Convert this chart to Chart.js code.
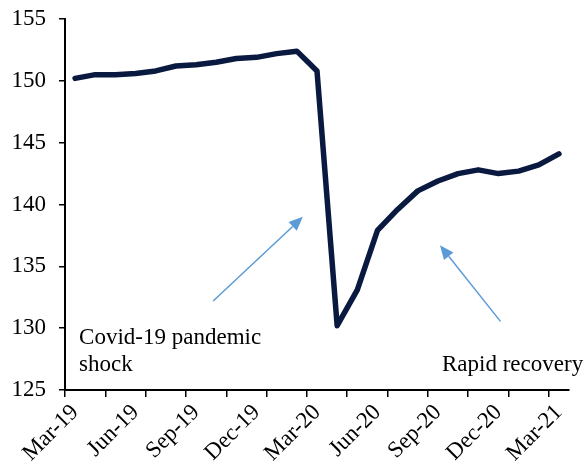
<!DOCTYPE html>
<html>
<head>
<meta charset="utf-8">
<script src="https://cdn.jsdelivr.net/npm/chart.js@4"></script>
<style>
  html, body { margin: 0; padding: 0; background: #fff; }
  #wrap { width: 587px; height: 470px; }
</style>
</head>
<body>
<div id="wrap"><canvas id="chart"></canvas></div>
<script>
// monthly index, Mar-19 .. Mar-21
const months = ['Mar-19', 'Apr-19', 'May-19', 'Jun-19', 'Jul-19', 'Aug-19', 'Sep-19', 'Oct-19', 'Nov-19',
  'Dec-19', 'Jan-20', 'Feb-20', 'Mar-20', 'Apr-20', 'May-20', 'Jun-20', 'Jul-20', 'Aug-20', 'Sep-20',
  'Oct-20', 'Nov-20', 'Dec-20', 'Jan-21', 'Feb-21', 'Mar-21'];
const values = [150.2, 150.5, 150.5, 150.6, 150.8, 151.2, 151.3, 151.5, 151.8, 151.9, 152.2, 152.4, 150.8,
  130.2, 133.1, 137.9, 139.6, 141.1, 141.9, 142.5, 142.8, 142.5, 142.7, 143.2, 144.1];
const yTicks = [125, 130, 135, 140, 145, 150, 155];

// annotation texts and arrows (x in month index, y in index value)
const notes = [
  { lines: ['Covid-19 pandemic', 'shock'], x: 0.2, y: [128.7, 126.55] },
  { lines: ['Rapid recovery'], x: 18.2, y: [126.55] }
];
const arrows = [
  { from: [6.85, 132.2], to: [11.3, 139.0] },
  { from: [21.1, 130.55], to: [18.1, 136.7] }
];

const points = values.map((v, i) => ({ x: i, y: v }));
const font = { family: "'Liberation Serif', 'Times New Roman', serif", size: 23 };

const notesPlugin = {
  id: 'notes',
  afterDatasetsDraw(chart) {
    const { ctx, scales: { x, y } } = chart;
    ctx.save();
    ctx.fillStyle = '#000';
    ctx.font = font.size + 'px ' + font.family;
    ctx.textBaseline = 'alphabetic';
    ctx.textAlign = 'left';
    notes.forEach(n => {
      n.lines.forEach((t, k) => ctx.fillText(t, x.getPixelForValue(n.x), y.getPixelForValue(n.y[k])));
    });
    ctx.strokeStyle = '#5b9bd5';
    ctx.fillStyle = '#5b9bd5';
    ctx.lineWidth = 1.5;
    arrows.forEach(a => {
      const x1 = x.getPixelForValue(a.from[0]), y1 = y.getPixelForValue(a.from[1]);
      const x2 = x.getPixelForValue(a.to[0]), y2 = y.getPixelForValue(a.to[1]);
      const ang = Math.atan2(y2 - y1, x2 - x1);
      const len = 14, half = 6;
      const bx = x2 - len * Math.cos(ang), by = y2 - len * Math.sin(ang);
      ctx.beginPath();
      ctx.moveTo(x1, y1);
      ctx.lineTo(bx, by);
      ctx.stroke();
      ctx.beginPath();
      ctx.moveTo(x2, y2);
      ctx.lineTo(bx + half * Math.sin(ang), by - half * Math.cos(ang));
      ctx.lineTo(bx - half * Math.sin(ang), by + half * Math.cos(ang));
      ctx.closePath();
      ctx.fill();
    });
    ctx.restore();
  }
};

new Chart(document.getElementById('chart').getContext('2d'), {
  type: 'line',
  data: {
    datasets: [{
      data: points,
      borderColor: '#0a1940',
      borderWidth: 5.5,
      borderCapStyle: 'round',
      borderJoinStyle: 'round',
      pointRadius: 0,
      tension: 0,
      fill: false
    }]
  },
  options: {
    responsive: true,
    maintainAspectRatio: false,
    animation: false,
    layout: { padding: { top: 19, right: 18, left: 0, bottom: 0 } },
    plugins: { legend: { display: false }, tooltip: { enabled: false } },
    scales: {
      x: {
        type: 'linear',
        min: -0.5,
        max: 24.5,
        afterBuildTicks: (scale) => {
          const t = [];
          for (let k = 0; k <= 12; k++) t.push(-0.5 + 2 * k); // tick marks every 2 months
          for (let k = 0; k <= 8; k++) t.push(3 * k);         // labels every 3 months
          scale.ticks = t.sort((a, b) => a - b).map(v => ({ value: v }));
        },
        afterFit: (scale) => { scale.height = 80; scale.paddingLeft = 0; scale.paddingRight = 0; },
        ticks: {
          autoSkip: false,
          minRotation: 45,
          maxRotation: 45,
          padding: 2,
          color: '#000',
          font: font,
          callback: (v) => (Number.isInteger(v) && v % 3 === 0) ? months[v] : ''
        },
        grid: {
          drawOnChartArea: false,
          tickLength: 7,
          lineWidth: 1.5,
          tickColor: (c) => (c.tick && !Number.isInteger(c.tick.value)) ? '#000' : 'rgba(0,0,0,0)'
        },
        border: { display: true, color: '#000', width: 2 }
      },
      y: {
        min: 125,
        max: 155,
        afterBuildTicks: (scale) => { scale.ticks = yTicks.map(v => ({ value: v })); },
        afterFit: (scale) => { scale.width = 65; scale.paddingTop = 0; scale.paddingBottom = 0; },
        ticks: { color: '#000', font: font, padding: 13 },
        grid: { drawOnChartArea: false, tickLength: 6, lineWidth: 1.5, tickColor: '#000' },
        border: { display: true, color: '#000', width: 2 }
      }
    }
  },
  plugins: [notesPlugin]
});
</script>
</body>
</html>
